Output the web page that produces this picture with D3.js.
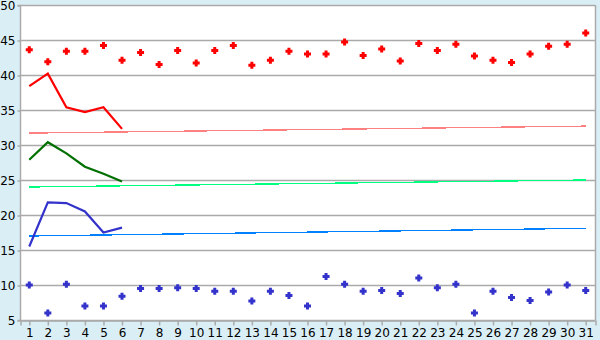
<!DOCTYPE html>
<html>
<head>
<meta charset="utf-8">
<script src="https://cdn.jsdelivr.net/npm/d3@7"></script>
<style>
  body { margin: 0; background: #daeff5; }
  svg { display: block; font-family: "DejaVu Sans", Verdana, sans-serif; }
</style>
</head>
<body>
<script>
// days of the month
let days = d3.range(1, 32);

// scatter series
let redPoints = [43.6, 41.9, 43.4, 43.4, 44.2, 42.1, 43.2, 41.5, 43.5, 41.7,
                 43.5, 44.2, 41.4, 42.1, 43.4, 43.0, 43.0, 44.7, 42.8, 43.7,
                 42.0, 44.5, 43.5, 44.4, 42.7, 42.1, 41.8, 43.0, 44.1, 44.4, 46.0];
let bluePoints = [10.0, 6.0, 10.1, 7.0, 7.0, 8.4, 9.5, 9.5, 9.6, 9.5,
                  9.1, 9.1, 7.7, 9.1, 8.5, 7.0, 11.2, 10.1, 9.1, 9.2,
                  8.8, 11.0, 9.6, 10.1, 6.0, 9.1, 8.2, 7.8, 9.0, 10.0, 9.2];

// short lines, days 1-6
let redLine = [38.4, 40.2, 35.4, 34.7, 35.4, 32.3];
let greenLine = [27.9, 30.4, 28.8, 26.9, 25.9, 24.8];
let blueLine = [15.5, 21.8, 21.7, 20.5, 17.5, 18.2];

// trend lines, first and last day
let trendDays = [1, 31];
let redTrend = [31.7, 32.7];
let greenTrend = [24.0, 25.0];
let blueTrend = [17.0, 18.1];

let yTicks = [5, 10, 15, 20, 25, 30, 35, 40, 45, 50];

let w = 600, h = 340;
let padL = 20, padR = 595, padT = 5, padB = 320;

let svg = d3.select("body").append("svg")
    .attr("width", w)
    .attr("height", h);

svg.append("rect")
    .attr("x", padL).attr("y", padT)
    .attr("width", padR - padL).attr("height", padB - padT)
    .attr("fill", "#fff");

let xScale = d3.scaleBand()
    .domain(days)
    .range([padL, padR]);

let xPos = d => xScale(d) + xScale.bandwidth() / 2;

let yScale = d3.scaleLinear()
    .domain([5, 50])
    .range([padB, padT]);

// grid
svg.append("g")
    .selectAll("line")
    .data(yTicks)
    .enter()
    .append("line")
    .attr("x1", padL).attr("x2", padR)
    .attr("y1", d => Math.round(yScale(d)) + 0.5)
    .attr("y2", d => Math.round(yScale(d)) + 0.5)
    .attr("stroke", "#aaa")
    .attr("stroke-width", 1.5);

// right border
svg.append("line")
    .attr("x1", padR + 0.5).attr("x2", padR + 0.5)
    .attr("y1", padT).attr("y2", padB)
    .attr("stroke", "#aaa").attr("stroke-width", 1.5);

let yAxis = svg.append("g")
    .attr("transform", `translate(${padL + 0.5},0.5)`)
    .call(d3.axisLeft(yScale).tickValues(yTicks).tickSize(3).tickPadding(2));

let xAxis = svg.append("g")
    .attr("transform", `translate(0.5,${padB + 0.5})`)
    .call(d3.axisBottom(xScale).tickSize(5).tickPadding(3));

[yAxis, xAxis].forEach(function (a) {
    a.selectAll("path, line").attr("stroke", "#aaa").attr("stroke-width", 1.5);
    a.selectAll("text").attr("fill", "#000").style("font-size", "12px")
        .style("font-family", "\"DejaVu Sans\", Verdana, sans-serif");
});
yAxis.select(".domain").attr("d", `M-3,${padB}H0V${padT}H-3`);

let line = d3.line()
    .x((d, i) => xPos(days[i]))
    .y(d => yScale(d));

let trend = d3.line()
    .x((d, i) => xPos(trendDays[i]))
    .y(d => yScale(d));

function drawTrend(data, color) {
    svg.append("path")
        .attr("d", trend(data))
        .attr("fill", "none")
        .attr("stroke", color)
        .attr("stroke-width", 1.3)
        .attr("shape-rendering", "crispEdges");
}
drawTrend(redTrend, "#ff8080");
drawTrend(greenTrend, "#00ff80");
drawTrend(blueTrend, "#0080ff");

function drawLine(data, color) {
    svg.append("path")
        .attr("d", line(data))
        .attr("fill", "none")
        .attr("stroke", color)
        .attr("stroke-width", 2.2);
}
drawLine(redLine, "#ff0000");
drawLine(greenLine, "#007000");
drawLine(blueLine, "#3333cc");

// fat plus marker, like the original
let fatPlus = {
    draw: function (ctx) {
        let a = 1.5, b = 3.5;
        ctx.moveTo(-a, -b); ctx.lineTo(a, -b); ctx.lineTo(a, -a);
        ctx.lineTo(b, -a); ctx.lineTo(b, a); ctx.lineTo(a, a);
        ctx.lineTo(a, b); ctx.lineTo(-a, b); ctx.lineTo(-a, a);
        ctx.lineTo(-b, a); ctx.lineTo(-b, -a); ctx.lineTo(-a, -a);
        ctx.closePath();
    }
};
let marker = d3.symbol().type(fatPlus);

function drawPoints(data, color) {
    svg.append("g")
        .selectAll("path")
        .data(data)
        .enter()
        .append("path")
        .attr("d", marker)
        .attr("transform", (d, i) => `translate(${xPos(days[i])},${yScale(d)})`)
        .attr("fill", color);
}
drawPoints(redPoints, "#ff0000");
drawPoints(bluePoints, "#3333cc");
</script>
</body>
</html>
